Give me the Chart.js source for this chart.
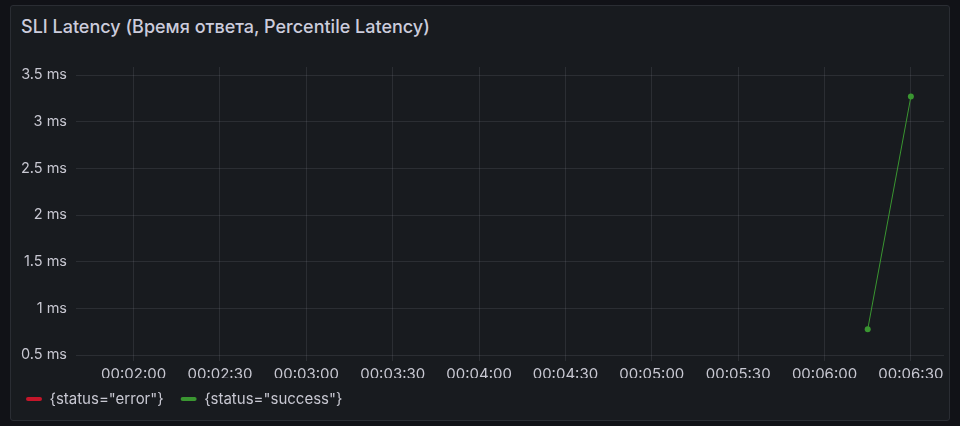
<!DOCTYPE html>
<html>
<head>
<meta charset="utf-8">
<script src="https://cdn.jsdelivr.net/npm/chart.js@4/dist/chart.umd.min.js"></script>
<style>
  html,body{margin:0;padding:0;background:#111217;width:960px;height:426px;overflow:hidden;}
  #panel{position:absolute;left:10px;top:5px;width:938px;height:414px;background:#181b1f;border:1px solid #2a2d33;border-radius:3px;}
  #title{position:absolute;left:21px;top:16px;line-height:22px;font-family:Inter,"Noto Sans",sans-serif;font-size:18px;font-weight:500;color:#ccccdc;white-space:nowrap;}
  #c{position:absolute;left:0;top:0;}
</style>
</head>
<body>
<div id="panel"></div>
<div id="title">SLI Latency (Время ответа, Percentile Latency)</div>
<canvas id="c" width="960" height="426" style="width:960px;height:426px"></canvas>
<script>
// ---- data ----
const seriesNames = ['{status="error"}', '{status="success"}'];
const errorTimes = [];
const errorValues = [];
const successTimes = ['00:06:15', '00:06:30'];
const successValues = [0.775, 3.27];
const xTickLabels = ['00:02:00','00:02:30','00:03:00','00:03:30','00:04:00','00:04:30','00:05:00','00:05:30','00:06:00','00:06:30'];
const yTickValues = [0.5, 1, 1.5, 2, 2.5, 3, 3.5];
const xRange = ['00:01:40', '00:06:41.5'];
const yRange = [0.436, 3.586];

// ---- helpers ----
function toSec(t){const p=t.split(':').map(Number);return p[0]*3600+p[1]*60+p[2];}
function pad(n){return String(n).padStart(2,'0');}
function fmt(s){s=Math.round(s);return pad(Math.floor(s/3600))+':'+pad(Math.floor(s%3600/60))+':'+pad(s%60);}
function pts(times, vals){return times.map((t,i)=>({x:toSec(t),y:vals[i]}));}

const FONT = 'Inter, "Noto Sans", sans-serif';
const TXT = '#c8c8d2';
const GRID = 'rgba(204,204,220,0.11)';
const RED = '#c4162a';
const GREEN = '#3a9631';

const legendShift = {
  id: 'legendShift',
  afterLayout(chart){
    const lg = chart.legend;
    if (lg) { lg.top -= 3.5; lg.bottom -= 3.5; }
  }
};

new Chart(document.getElementById('c'), {
  type: 'line',
  data: {
    datasets: [
      {label: seriesNames[0], data: pts(errorTimes, errorValues), borderColor: RED, backgroundColor: RED, borderWidth: 1, pointRadius: 3},
      {label: seriesNames[1], data: pts(successTimes, successValues), borderColor: GREEN, backgroundColor: GREEN, borderWidth: 1, pointRadius: 3, pointBorderWidth: 0}
    ]
  },
  plugins: [legendShift],
  options: {
    responsive: false,
    animation: false,
    devicePixelRatio: 1,
    layout: {padding: {left: 9, right: 16, top: 67, bottom: 6}},
    plugins: {
      title: {display: false},
      tooltip: {enabled: false},
      legend: {
        display: true, position: 'bottom', align: 'start',
        labels: {
          color: TXT, font: {family: FONT, size: 15},
          boxWidth: 16, boxHeight: 4, padding: 17, useBorderRadius: true, borderRadius: 2,
          generateLabels(chart){
            return chart.data.datasets.map((d,i)=>({text:d.label, fillStyle:d.borderColor, strokeStyle:d.borderColor, lineWidth:0, borderRadius:2, datasetIndex:i, fontColor:TXT}));
          }
        }
      }
    },
    scales: {
      x: {
        type: 'linear',
        min: toSec(xRange[0]), max: toSec(xRange[1]),
        border: {display: false},
        grid: {color: GRID, drawTicks: false, lineWidth: 1},
        afterBuildTicks(scale){ scale.ticks = xTickLabels.map(l=>({value: toSec(l)})); },
        afterFit(scale){ scale.height = 17; },
        ticks: {color: TXT, font: {family: FONT, size: 15}, padding: 4, maxRotation: 0, autoSkip: false, callback: v => fmt(v)}
      },
      y: {
        type: 'linear',
        min: yRange[0], max: yRange[1],
        border: {display: false},
        grid: {color: GRID, drawTicks: false, lineWidth: 1},
        afterBuildTicks(scale){ scale.ticks = yTickValues.map(v=>({value: v})); },
        afterFit(scale){ scale.width = 67; },
        ticks: {color: TXT, font: {family: FONT, size: 14.5}, padding: 9, callback: v => v + ' ms'}
      }
    }
  }
});
</script>
</body>
</html>
